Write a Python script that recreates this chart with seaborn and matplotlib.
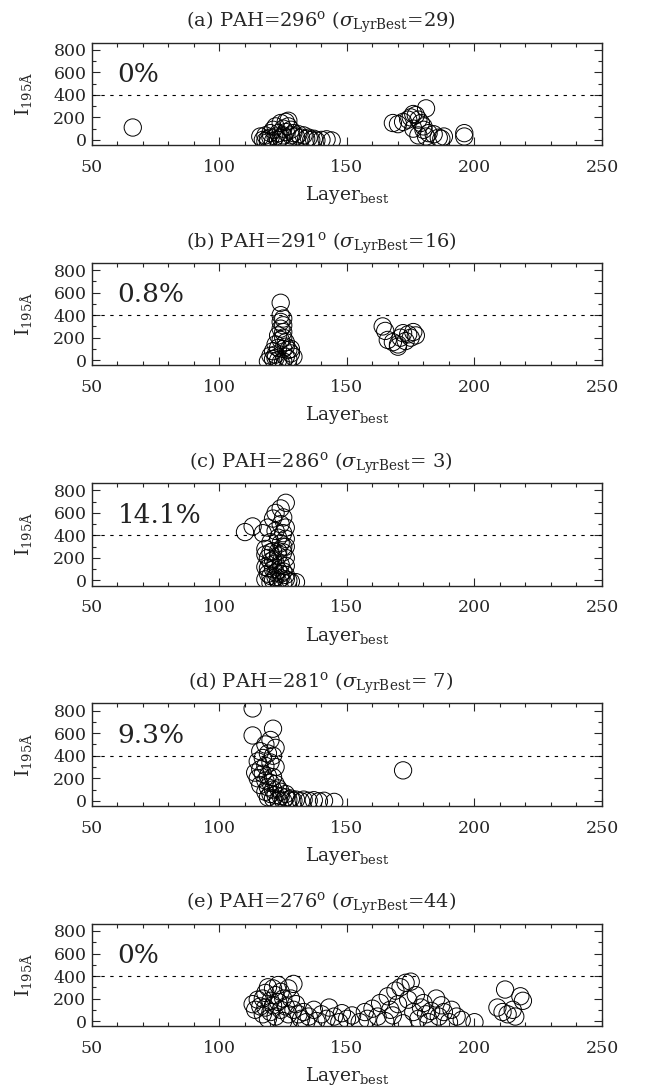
import matplotlib
matplotlib.use("Agg")
import matplotlib.pyplot as plt
import seaborn as sns
import pandas as pd
from matplotlib.ticker import MultipleLocator

# ---------------- data ----------------
titles = [
    r"(a) PAH=296$^{\rm o}$ ($\sigma_{\rm LyrBest}$=29)",
    r"(b) PAH=291$^{\rm o}$ ($\sigma_{\rm LyrBest}$=16)",
    r"(c) PAH=286$^{\rm o}$ ($\sigma_{\rm LyrBest}$= 3)",
    r"(d) PAH=281$^{\rm o}$ ($\sigma_{\rm LyrBest}$= 7)",
    r"(e) PAH=276$^{\rm o}$ ($\sigma_{\rm LyrBest}$=44)",
]
percent_labels = ["0%", "0.8%", "14.1%", "9.3%", "0%"]
threshold = 400

points_a = [
    (66, 110),
    (116, 30), (117, 0), (118, -10), (118, 40), (119, 10), (119, -20), (120, 20), (120, 60),
    (121, -10), (121, 90), (122, 30), (122, 120), (123, 0), (123, 60), (124, 150), (124, 20),
    (125, 40), (125, 100), (126, 160), (126, 70), (127, 170), (127, 120), (128, 40), (128, 90),
    (129, 60), (130, 30), (131, 50), (132, 20), (133, 40), (134, 10), (135, 20), (136, 0),
    (137, 10), (138, -5), (140, 0), (142, 5), (144, -5),
    (168, 150), (170, 140), (172, 160), (174, 180), (175, 200), (176, 230), (177, 220),
    (178, 180), (179, 150), (180, 120), (181, 280), (180, 90), (182, 60), (176, 100),
    (178, 40), (181, 30), (184, 50), (186, 20), (187, 10), (188, 30), (196, 60), (196, 30),
]
points_b = [
    (124, 510), (124, 400), (125, 370), (124, 340), (125, 310), (124, 280), (125, 250),
    (123, 220), (125, 200), (124, 180), (126, 160), (122, 140), (123, 110), (125, 100),
    (121, 80), (127, 90), (128, 60), (122, 50), (120, 40), (126, 30), (121, 10), (123, 0),
    (119, -10), (124, -20), (127, 10), (129, 30), (126, 120), (122, 20), (125, -10), (128, 100),
    (164, 300), (165, 260), (166, 180), (168, 160), (170, 140), (171, 200), (172, 240),
    (173, 170), (174, 230), (175, 200), (176, 250), (177, 220), (170, 120),
]
points_c = [
    (110, 430), (113, 480),
    (126, 690), (124, 640), (122, 600), (121, 550), (125, 560), (124, 500), (126, 470),
    (119, 470), (117, 420), (122, 440), (125, 420), (123, 380), (126, 370), (120, 340),
    (124, 330), (126, 300), (118, 280), (121, 260), (125, 250), (123, 220), (119, 200),
    (126, 200), (120, 170), (122, 150), (124, 140), (126, 130), (118, 120), (121, 100),
    (123, 90), (125, 80), (119, 60), (120, 40), (122, 30), (124, 20), (126, 10), (121, 0),
    (123, -10), (125, -20), (127, 0), (128, -10), (130, -15), (118, 10), (120, -20),
    (122, 70), (124, 60), (126, 50), (119, 110), (121, 180), (123, 260), (125, 300),
    (120, 250), (118, 230),
]
points_d = [
    (113, 820), (113, 580), (121, 640), (120, 540), (118, 500), (122, 470), (116, 440),
    (119, 420), (121, 400), (117, 380), (115, 350), (120, 340), (118, 310), (116, 280),
    (122, 300), (114, 250), (117, 240), (119, 220), (121, 210), (115, 200), (118, 180),
    (120, 160), (122, 150), (116, 140), (119, 120), (121, 100), (123, 110), (118, 80),
    (120, 60), (122, 50), (124, 40), (119, 30), (121, 20), (123, 10), (125, 0), (126, 30),
    (127, 10), (128, 20), (129, 0), (130, 10), (132, -5), (133, 10), (135, 0), (137, 5),
    (139, -5), (141, 0), (145, -10), (124, 80), (126, 60), (172, 270),
]
points_e = [
    (113, 150), (114, 100), (115, 190), (116, 130), (117, 200), (117, 60), (118, 250),
    (118, 120), (119, 300), (119, 20), (120, 180), (120, 80), (121, 290), (121, 140),
    (122, 230), (122, 40), (123, 320), (123, 170), (124, 100), (124, 260), (125, 200),
    (125, 0), (126, 130), (127, 290), (127, 60), (128, 200), (129, 330), (129, 100),
    (130, 150), (131, 60), (132, 20), (133, 80), (134, -10), (135, 40), (137, 100),
    (138, 0), (140, 60), (142, 20), (143, 120), (145, 40), (147, -10), (148, 70), (150, 20),
    (152, 50), (155, -10), (157, 80), (158, 20), (160, 110), (162, 40), (163, 160),
    (165, 0), (166, 220), (167, 100), (168, 50), (169, 270), (170, 150), (171, 300),
    (172, -20), (173, 340), (174, 190), (175, 350), (176, 80), (177, 230), (178, 20),
    (179, 120), (180, 160), (181, 60), (182, -10), (183, 90), (185, 200), (186, 40),
    (187, 140), (188, 80), (190, -10), (191, 100), (193, 40), (195, 10), (200, -10),
    (209, 120), (211, 80), (212, 280), (213, 60), (215, 100), (216, 40), (218, 220),
    (219, 180),
]
all_points = [points_a, points_b, points_c, points_d, points_e]

x_ticks = [50, 100, 150, 200, 250]
y_ticks = [0, 200, 400, 600, 800]

# ---------------- style ----------------
sns.set_style("ticks")
plt.rcParams["font.family"] = ["DejaVu Serif"]
plt.rcParams["mathtext.fontset"] = "dejavuserif"
plt.rcParams["axes.linewidth"] = 1.0

fig = plt.figure(figsize=(6.45, 10.9), dpi=100)

left, width, height = 0.1426, 0.7907, 0.094
bottom0, step = 0.867, 0.2021

for i, pts in enumerate(all_points):
    ax = fig.add_axes([left, bottom0 - i * step, width, height])
    df = pd.DataFrame(pts, columns=["layer", "intensity"])
    sns.scatterplot(data=df, x="layer", y="intensity", ax=ax, marker="o", s=155,
                    facecolor="none", edgecolor="black", linewidth=0.7, legend=False)
    ax.axhline(threshold, color="black", lw=0.8, ls=(0, (3, 5)))
    ax.set_xlim(50, 250)
    ax.set_ylim(-45, 865)
    ax.set_xticks(x_ticks)
    ax.set_yticks(y_ticks)
    ax.xaxis.set_minor_locator(MultipleLocator(10))
    ax.yaxis.set_minor_locator(MultipleLocator(100))
    ax.tick_params(which="both", direction="in", top=True, right=True,
                   labelsize=12.5, width=0.8)
    ax.tick_params(which="major", length=6)
    ax.tick_params(which="minor", length=3)
    ax.tick_params(axis="x", pad=10)
    ax.tick_params(axis="y", pad=4)
    for sp in ax.spines.values():
        sp.set_visible(True)
        sp.set_linewidth(1.0)
    ax.set_title(titles[i], fontsize=14, pad=11, x=0.449)
    ax.set_xlabel(r"Layer$_{\rm best}$", fontsize=13.5, labelpad=6)
    ax.set_ylabel(r"I$_{\rm 195Å}$", fontsize=13.5, labelpad=14)
    ax.text(60, 580, percent_labels[i], fontsize=19, ha="left", va="center",
            color="#222222")

fig.savefig("out.png", dpi=100)
